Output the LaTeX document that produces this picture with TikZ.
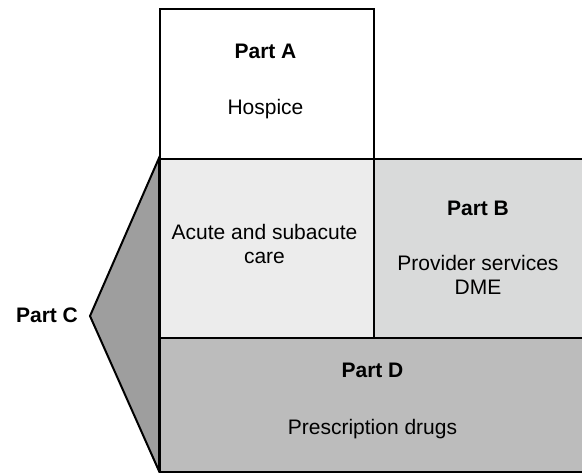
\documentclass[tikz,border=0pt]{standalone}
\usepackage{fontspec}
\setmainfont{Liberation Sans}
\definecolor{acutefill}{HTML}{ECECEC}
\definecolor{partbfill}{HTML}{D9DADA}
\definecolor{partdfill}{HTML}{BCBCBC}
\definecolor{partcfill}{HTML}{9E9E9E}
\begin{document}
\begin{tikzpicture}[x=1pt, y=-1pt,
  frame/.style={draw=black, line width=2pt, inner sep=0pt, anchor=north west},
  txt/.style={font=\fontsize{21}{24}\selectfont, anchor=base, align=center, inner sep=0pt},
  title/.style={txt, font=\fontsize{21}{24}\selectfont\bfseries}]
\useasboundingbox (0,0) rectangle (582,473);
\fill[white] (0,0) rectangle (582,473);

% Part C wedge on the left
\coordinate (wtop) at (159,158);
\coordinate (wtip) at (90,316);
\coordinate (wbot) at (159,471);
\draw[line width=2pt, fill=partcfill, line join=miter] (wtop) -- (wtip) -- (wbot) -- cycle;

% boxes
\node[frame, fill=white, minimum width=214pt, minimum height=150pt] (boxA) at (159,8) {};
\node[frame, fill=acutefill, minimum width=214pt, minimum height=179pt] (boxAcute) at (159,158) {};
\node[frame, fill=partbfill, minimum width=222pt, minimum height=179pt] (boxB) at (373,158) {};
\node[frame, fill=partdfill, minimum width=436pt, minimum height=134pt] (boxD) at (159,337) {};

% labels (multi-line nodes sit on the baseline of their last line)
\node[title] (tA) at (265.5,59) {Part A};
\node[txt] (hospice) at (265.5,115) {Hospice};
\node[txt] (acute) at (264.5,264) {Acute and subacute\\care};
\node[title] (tB) at (478,216) {Part B};
\node[txt] (provider) at (478,295) {Provider services\\DME};
\node[title] (tD) at (372.5,378) {Part D};
\node[txt] (drugs) at (372.5,435) {Prescription drugs};
\node[title] (tC) at (47,323) {Part C};
\end{tikzpicture}
\end{document}
